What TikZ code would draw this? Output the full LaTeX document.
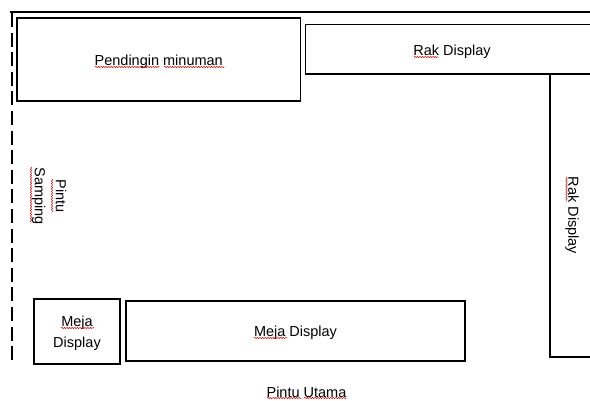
\documentclass[tikz,border=0pt]{standalone}
\usepackage{fontspec}
\setmainfont{Liberation Sans}
\usetikzlibrary{decorations.pathmorphing}
\tikzset{
  kotak/.style={draw=black,line width=1.4pt,inner sep=0pt,align=center},
  geser/.style={text height=12pt,text depth=0pt},
  tulisan/.style={inner sep=0pt,align=center},
  ejaan/.style={draw=red!85!black,line width=.45pt,decorate,decoration={snake,amplitude=.7pt,segment length=2.6pt}},
}
\begin{document}
\begin{tikzpicture}[x=1pt,y=-1pt,font=\fontsize{14.5}{21}\selectfont]
        \clip (0,0) rectangle (590,401);
        \fill[white] (0,0) rectangle (590,401);
        % walls
        \draw[line width=1.4pt] (10,12) -- (590,12);
        \draw[line width=1.4pt,dash pattern=on 14pt off 5.6pt] (12,13) -- (12,362);
        % boxes
        \node[kotak,geser,minimum width=283.5pt,minimum height=83pt] (pendingin) at (158.75,59.5) {Pendingin minuman};
        \node[kotak,geser,minimum width=293pt,minimum height=49.5pt] (rakatas) at (452,49.25) {Rak Display};
        \node[kotak,rotate=-90,minimum width=283pt,minimum height=44pt] (rakkanan) at (572,215.5) {Rak Display};
        \node[kotak,minimum width=86pt,minimum height=65pt] (mejakecil) at (77,331.5) {};
        \node[kotak,geser,minimum width=339pt,minimum height=60pt] (mejabesar) at (295.5,331) {Meja Display};
        \node[tulisan] (mejateks) at (77,333) {Meja\\Display};
        \node[tulisan,rotate=-90] (samping) at (49,196) {Pintu\\Samping};
        \node[tulisan] (utama) at (306.5,392.5) {Pintu Utama};
        % spelling marks
        \foreach \ax/\ay/\bx/\by in
            { 95/67/160/67, 164/67/225/67, 414/57/439/57
            , 566.5/177/566.5/202, 52/179/52/213, 31/167/31/223
            , 61/328/94/328, 254/338/287/338, 267/398/302/398, 304/398/347/398
            }
        {\draw[ejaan] (\ax,\ay) -- (\bx,\by);
        }
\end{tikzpicture}
\end{document}
